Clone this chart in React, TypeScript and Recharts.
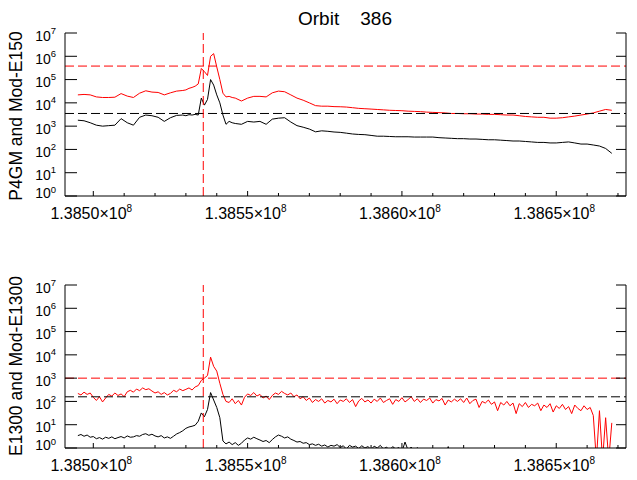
import React from "react";
import { LineChart, Line, XAxis, YAxis, ReferenceLine } from "recharts";

const FONT = "'Liberation Sans', Arial, sans-serif";

// sample times (s) for the upper panel
const coarseTimes = [
  138495000, 138497000, 138499000, 138501000, 138503000, 138505000, 138507000, 138509000, 138511000, 138513000,
  138515000, 138517000, 138519000, 138521000, 138523000, 138525000, 138527000, 138529000,
  138530000, 138531000, 138532000, 138533000, 138534000, 138535000, 138536000, 138537000, 138538000, 138539000,
  138540000, 138541000, 138542000, 138543000, 138544000, 138545000, 138546000,
  138548000, 138550000, 138552000, 138554000, 138556000, 138558000, 138560000, 138562000, 138564000, 138566000,
  138568000, 138570000, 138572000, 138574000, 138576000, 138578000, 138580000, 138582000, 138584000, 138586000,
  138588000, 138590000, 138592000, 138594000, 138596000, 138598000, 138600000, 138602000, 138604000, 138606000,
  138608000, 138610000, 138612000, 138614000, 138616000, 138618000, 138620000, 138622000, 138624000, 138626000,
  138628000, 138630000, 138632000, 138634000, 138636000, 138638000, 138640000, 138642000, 138644000, 138646000,
  138648000, 138650000, 138652000, 138654000, 138656000, 138658000, 138660000, 138662000, 138664000, 138666000,
  138668000,
];

const p4gm = [
  2.2e4, 2.3e4, 2.2e4, 1.8e4, 1.7e4, 1.7e4, 1.75e4, 2.5e4, 1.95e4, 1.7e4,
  2.6e4, 3.3e4, 2.9e4, 2.8e4, 2.2e4, 2.7e4, 3.2e4, 3.4e4,
  3.6e4, 4.2e4, 4.6e4, 5.2e4, 6.5e4, 3.0e5, 2.2e5, 1.5e5, 1.0e6, 1.3e6,
  3.5e5, 1.0e5, 2.6e4, 1.8e4, 1.9e4, 1.7e4, 1.6e4,
  1.2e4, 1.6e4, 1.9e4, 1.9e4, 1.8e4, 2.7e4, 3.2e4, 3.0e4, 2.2e4, 1.6e4,
  1.3e4, 1.0e4, 7.6e3, 7.2e3, 7.2e3, 6.9e3, 6.8e3, 6.6e3, 6.2e3, 5.8e3,
  5.6e3, 5.4e3, 5.2e3, 5.0e3, 4.8e3, 4.7e3, 4.6e3, 4.4e3, 4.3e3, 4.2e3,
  4.0e3, 3.9e3, 3.8e3, 3.7e3, 3.5e3, 3.5e3, 3.4e3, 3.4e3, 3.3e3, 3.3e3,
  3.2e3, 3.2e3, 3.1e3, 3.0e3, 3.0e3, 2.8e3, 2.6e3, 2.5e3, 2.4e3, 2.4e3,
  2.2e3, 2.2e3, 2.3e3, 2.5e3, 2.7e3, 3.0e3, 3.3e3, 3.7e3, 4.4e3, 5.2e3,
  4.8e3,
];

const modE150 = [
  1.8e3, 1.7e3, 1.4e3, 1.1e3, 1.0e3, 1.05e3, 1.1e3, 2.1e3, 1.4e3, 1.1e3,
  2.4e3, 3.0e3, 2.8e3, 2.4e3, 1.6e3, 2.3e3, 2.9e3, 3.0e3,
  2.8e3, 3.1e3, 3.0e3, 3.2e3, 3.0e3, 1.6e4, 8.0e3, 1.4e4, 1.0e5, 5.8e4,
  2.2e4, 1.0e4, 3.0e3, 1.2e3, 1.6e3, 1.4e3, 1.3e3,
  1.2e3, 1.6e3, 1.5e3, 1.6e3, 1.2e3, 2.0e3, 2.2e3, 2.3e3, 1.5e3, 1.05e3,
  9.0e2, 7.5e2, 5.7e2, 6.3e2, 6.0e2, 5.6e2, 5.4e2, 5.0e2, 4.6e2, 4.4e2,
  4.3e2, 4.0e2, 3.7e2, 3.7e2, 3.6e2, 3.5e2, 3.5e2, 3.5e2, 3.4e2, 3.4e2,
  3.4e2, 3.4e2, 3.2e2, 3.1e2, 3.0e2, 2.9e2, 2.9e2, 2.8e2, 2.8e2, 2.7e2,
  2.6e2, 2.6e2, 2.5e2, 2.4e2, 2.3e2, 2.3e2, 2.2e2, 2.1e2, 2.0e2, 2.0e2,
  1.9e2, 1.9e2, 2.0e2, 2.1e2, 1.9e2, 1.7e2, 1.7e2, 1.55e2, 1.4e2, 1.1e2,
  6.8e1,
];

// sample times (s) for the lower panel
const fineTimes = [
  138495000, 138496000, 138497000, 138498000, 138499000, 138500000, 138501000, 138502000, 138503000, 138504000,
  138505000, 138506000, 138507000, 138508000, 138509000, 138510000, 138511000, 138512000, 138513000, 138514000,
  138515000, 138516000, 138517000, 138518000, 138519000, 138520000, 138521000, 138522000, 138523000, 138524000,
  138525000, 138526000, 138527000, 138528000, 138529000, 138530000, 138531000, 138532000, 138533000, 138534000,
  138535000, 138536000, 138537000, 138538000, 138539000, 138540000, 138541000, 138542000, 138543000, 138544000,
  138545000, 138546000, 138547000, 138548000, 138549000, 138550000, 138551000, 138552000, 138553000, 138554000,
  138555000, 138556000, 138557000, 138558000, 138559000, 138560000, 138561000, 138562000, 138563000, 138564000,
  138565000, 138566000, 138567000, 138568000, 138569000, 138570000, 138571000, 138572000, 138573000, 138574000,
  138575000, 138576000, 138577000, 138578000, 138579000, 138580000, 138581000, 138582000, 138583000, 138584000,
  138585000, 138586000, 138587000, 138588000, 138589000, 138590000, 138591000, 138592000, 138593000, 138594000,
  138595000, 138596000, 138597000, 138598000, 138599000, 138600000, 138601000, 138602000, 138603000, 138604000,
  138605000, 138606000, 138607000, 138608000, 138609000, 138610000, 138611000, 138612000, 138613000, 138614000,
  138615000, 138616000, 138617000, 138618000, 138619000, 138620000, 138621000, 138622000, 138623000, 138624000,
  138625000, 138626000, 138627000, 138628000, 138629000, 138630000, 138631000, 138632000, 138633000, 138634000,
  138635000, 138636000, 138637000, 138638000, 138639000, 138640000, 138641000, 138642000, 138643000, 138644000,
  138645000, 138646000, 138647000, 138648000, 138649000, 138650000, 138651000, 138652000, 138653000, 138654000,
  138655000, 138656000, 138657000, 138658000, 138659000, 138660000, 138661000, 138662000, 138663000, 138664000,
  138665000, 138666000, 138667000, 138668000,
];

const e1300 = [
  220, 190, 250, 200, 230, 150, 110, 160, 95, 140,
  200, 170, 230, 180, 210, 160, 260, 300, 250, 340,
  290, 380, 320, 350, 280, 230, 260, 200, 240, 190,
  220, 300, 260, 340, 290, 330, 380, 310, 420, 480,
  800, 1000, 1300, 8000, 3200, 2000, 600, 200, 100, 90,
  130, 80, 110, 70, 150, 210, 180, 240, 170, 200,
  140, 170, 120, 180, 230, 200, 270, 220, 190, 230,
  160, 190, 130, 160, 110, 140, 90, 120, 100, 130,
  85, 110, 95, 125, 80, 115, 100, 130, 90, 120,
  60, 105, 135, 95, 115, 85, 125, 100, 140, 90,
  110, 130, 75, 120, 100, 145, 95, 120, 160, 100,
  130, 90, 125, 110, 140, 85, 120, 105, 135, 70,
  115, 95, 125, 100, 130, 90, 140, 80, 110, 125,
  55, 100, 85, 115, 75, 95, 40, 90, 70, 100,
  65, 85, 30, 80, 60, 90, 55, 75, 65, 85,
  40, 70, 55, 80, 35, 65, 50, 75, 45, 60,
  30, 70, 50, 40, 65, 45, 55, 25, 0.3, 40,
  0.3, 20, 0.3, 12,
];

const modE1300 = [
  3.4, 3.8, 3.2, 3.6, 2.9, 3.1, 2.5, 2.8, 2.4, 2.9,
  2.6, 3.0, 2.5, 2.8, 3.1, 2.7, 3.3, 2.9, 3.0, 3.4,
  3.2, 3.8, 4.1, 3.5, 3.9, 3.3, 3.0, 3.4, 2.7, 3.0,
  2.6, 3.2, 4.0, 4.6, 5.5, 7.0, 8.0, 8.6, 9.5, 14,
  32, 22, 45, 240, 115, 55, 20, 2.0, 1.5, 1.8,
  1.4, 1.7, 1.3, 1.6, 2.2, 2.7, 2.4, 2.9, 2.5, 2.2,
  1.9, 2.1, 1.7, 2.3, 3.0, 3.6, 3.2, 2.7, 3.0, 2.4,
  2.1, 1.8, 1.9, 1.6, 1.7, 1.4, 1.5, 1.3, 1.45, 1.2,
  1.35, 1.1, 1.3, 1.2, 1.4, 1.05, 1.25, 0.9, 1.3, 1.1,
  1.2, 0.95, 1.25, 1.0, 1.15, 0.85, 1.2, 1.0, 1.3, 0.9,
  1.1, 0.8, 1.15, 0.9, 1.05, 0.7, 1.8, 0.8, 1.1, 0.6,
  1.05, 0.5, 0.9, 0.5, 0.8, 0.4, 0.7, 0.4, 0.6, 0.5,
  1.15, 0.4, 0.6, 0.3, 0.5, 0.3, 0.5, 0.3, 0.4, 0.3,
  0.4, 0.3, 0.3, 0.4, 0.3, 0.3, 0.4, 0.3, 0.3, 0.4,
  0.3, 0.3, 0.4, 0.3, 0.3, 0.4, 0.3, 0.3, 0.4, 0.3,
  0.3, 0.4, 0.3, 0.3, 0.4, 0.3, 0.3, 0.4, 0.3, 0.3,
  0.4, 0.3, 0.3, 0.4, 0.3, 0.3, 0.4, 0.3, 0.3, 0.4,
  0.3, 0.3, 0.4, 0.3,
];

const xTicks = [
  138500000, 138510000, 138520000, 138530000, 138540000, 138550000, 138560000, 138570000, 138580000,
  138590000, 138600000, 138610000, 138620000, 138630000, 138640000, 138650000, 138660000, 138670000,
];
const yTicks = [1, 10, 100, 1e3, 1e4, 1e5, 1e6, 1e7];
const X_DOMAIN = [138490830, 138672600];
const EVENT_TIME = 138535630;

const topData = coarseTimes.map((t, i) => ({ t, red: p4gm[i], black: modE150[i] }));
const bottomData = fineTimes.map((t, i) => ({ t, red: e1300[i], black: modE1300[i] }));

const isMajor = (v: number) => v % 50000 === 0;

function BottomTick({ x, y, payload }: any) {
  const v = payload.value;
  const major = isMajor(v);
  return (
    <g>
      <line x1={x} x2={x} y1={y} y2={y - (major ? 5 : 3)} stroke="#000" />
      {major && (
        <text x={x - 2} y={y + 23} textAnchor="middle" fontSize={16} fill="#000" fontFamily={FONT}>
          {(v / 1e8).toFixed(4)}×10
          <tspan dy={-7} fontSize={10}>8</tspan>
        </text>
      )}
    </g>
  );
}

function TopTick({ x, y, payload }: any) {
  const major = isMajor(payload.value);
  return <line x1={x} x2={x} y1={y} y2={y + (major ? 5 : 3)} stroke="#000" />;
}

function LeftTick({ x, y, payload }: any) {
  const exp = Math.round(Math.log10(payload.value));
  const base = exp === 0 ? y + 1.5 : y + 7.5;
  return (
    <g>
      <line x1={x} x2={x + 12} y1={y} y2={y} stroke="#000" />
      <text x={x - 9} y={base} textAnchor="end" fontSize={14} fill="#000" fontFamily={FONT}>
        10
        <tspan dy={exp === 0 ? -5 : -7} fontSize={9.5}>{exp}</tspan>
      </text>
    </g>
  );
}

function RightTick({ x, y }: any) {
  return <line x1={x} x2={x - 10} y1={y} y2={y} stroke="#000" />;
}

function Panel({ data, top, xHeight, redLevel, blackLevel }: any) {
  return (
    <LineChart
      width={637}
      height={240}
      data={data}
      margin={{ top, right: 0, bottom: 0, left: 0 }}
    >
      <XAxis
        xAxisId="b"
        dataKey="t"
        type="number"
        domain={X_DOMAIN}
        allowDataOverflow
        ticks={xTicks}
        interval={0}
        height={xHeight}
        tickSize={0}
        tickMargin={0}
        tickLine={false}
        axisLine={{ stroke: "#000" }}
        tick={<BottomTick />}
      />
      <XAxis
        xAxisId="t"
        dataKey="t"
        orientation="top"
        type="number"
        domain={X_DOMAIN}
        allowDataOverflow
        ticks={xTicks}
        interval={0}
        height={0}
        tickSize={0}
        tickMargin={0}
        tickLine={false}
        axisLine={{ stroke: "#000" }}
        tick={<TopTick />}
      />
      <YAxis
        yAxisId="l"
        scale="log"
        type="number"
        domain={[1, 1e7]}
        allowDataOverflow
        ticks={yTicks}
        interval={0}
        width={65}
        tickSize={0}
        tickMargin={0}
        tickLine={false}
        axisLine={{ stroke: "#000" }}
        tick={<LeftTick />}
      />
      <YAxis
        yAxisId="r"
        orientation="right"
        scale="log"
        type="number"
        domain={[1, 1e7]}
        allowDataOverflow
        ticks={yTicks}
        interval={0}
        width={11}
        tickSize={0}
        tickMargin={0}
        tickLine={false}
        axisLine={{ stroke: "#000" }}
        tick={<RightTick />}
      />
      <Line
        xAxisId="b"
        yAxisId="l"
        dataKey="black"
        type="linear"
        stroke="#000"
        strokeWidth={1}
        dot={false}
        isAnimationActive={false}
      />
      <Line
        xAxisId="b"
        yAxisId="l"
        dataKey="red"
        type="linear"
        stroke="#ff0000"
        strokeWidth={1}
        dot={false}
        isAnimationActive={false}
      />
      <ReferenceLine xAxisId="b" yAxisId="l" y={redLevel} stroke="#ff0000" strokeDasharray="9 4" />
      <ReferenceLine xAxisId="b" yAxisId="l" y={blackLevel} stroke="#000" strokeDasharray="9 4" />
      <ReferenceLine xAxisId="b" yAxisId="l" x={EVENT_TIME} stroke="#ff0000" strokeDasharray="9 4" />
    </LineChart>
  );
}

export default function App() {
  return (
    <div
      style={{
        position: "absolute",
        left: 0,
        top: 0,
        width: 637,
        height: 480,
        background: "#fff",
        fontFamily: FONT,
      }}
    >
      <div style={{ position: "absolute", left: 0, top: 0 }}>
        <Panel data={topData} top={33} xHeight={44} redLevel={3.8e5} blackLevel={3.5e3} />
      </div>
      <div style={{ position: "absolute", left: 0, top: 240 }}>
        <Panel data={bottomData} top={45} xHeight={32} redLevel={1000} blackLevel={158} />
      </div>
      <svg
        width={637}
        height={480}
        style={{ position: "absolute", left: 0, top: 0, pointerEvents: "none" }}
      >
        <text x={345} y={25} textAnchor="middle" fontSize={19} fill="#000" style={{ whiteSpace: "pre" }}>
          {"Orbit    386"}
        </text>
        <text
          transform="translate(22,116) rotate(-90)"
          textAnchor="middle"
          fontSize={17.5}
          fill="#000"
        >
          P4GM and Mod-E150
        </text>
        <text
          transform="translate(22,366) rotate(-90)"
          textAnchor="middle"
          fontSize={17.5}
          fill="#000"
        >
          E1300 and Mod-E1300
        </text>
      </svg>
    </div>
  );
}
